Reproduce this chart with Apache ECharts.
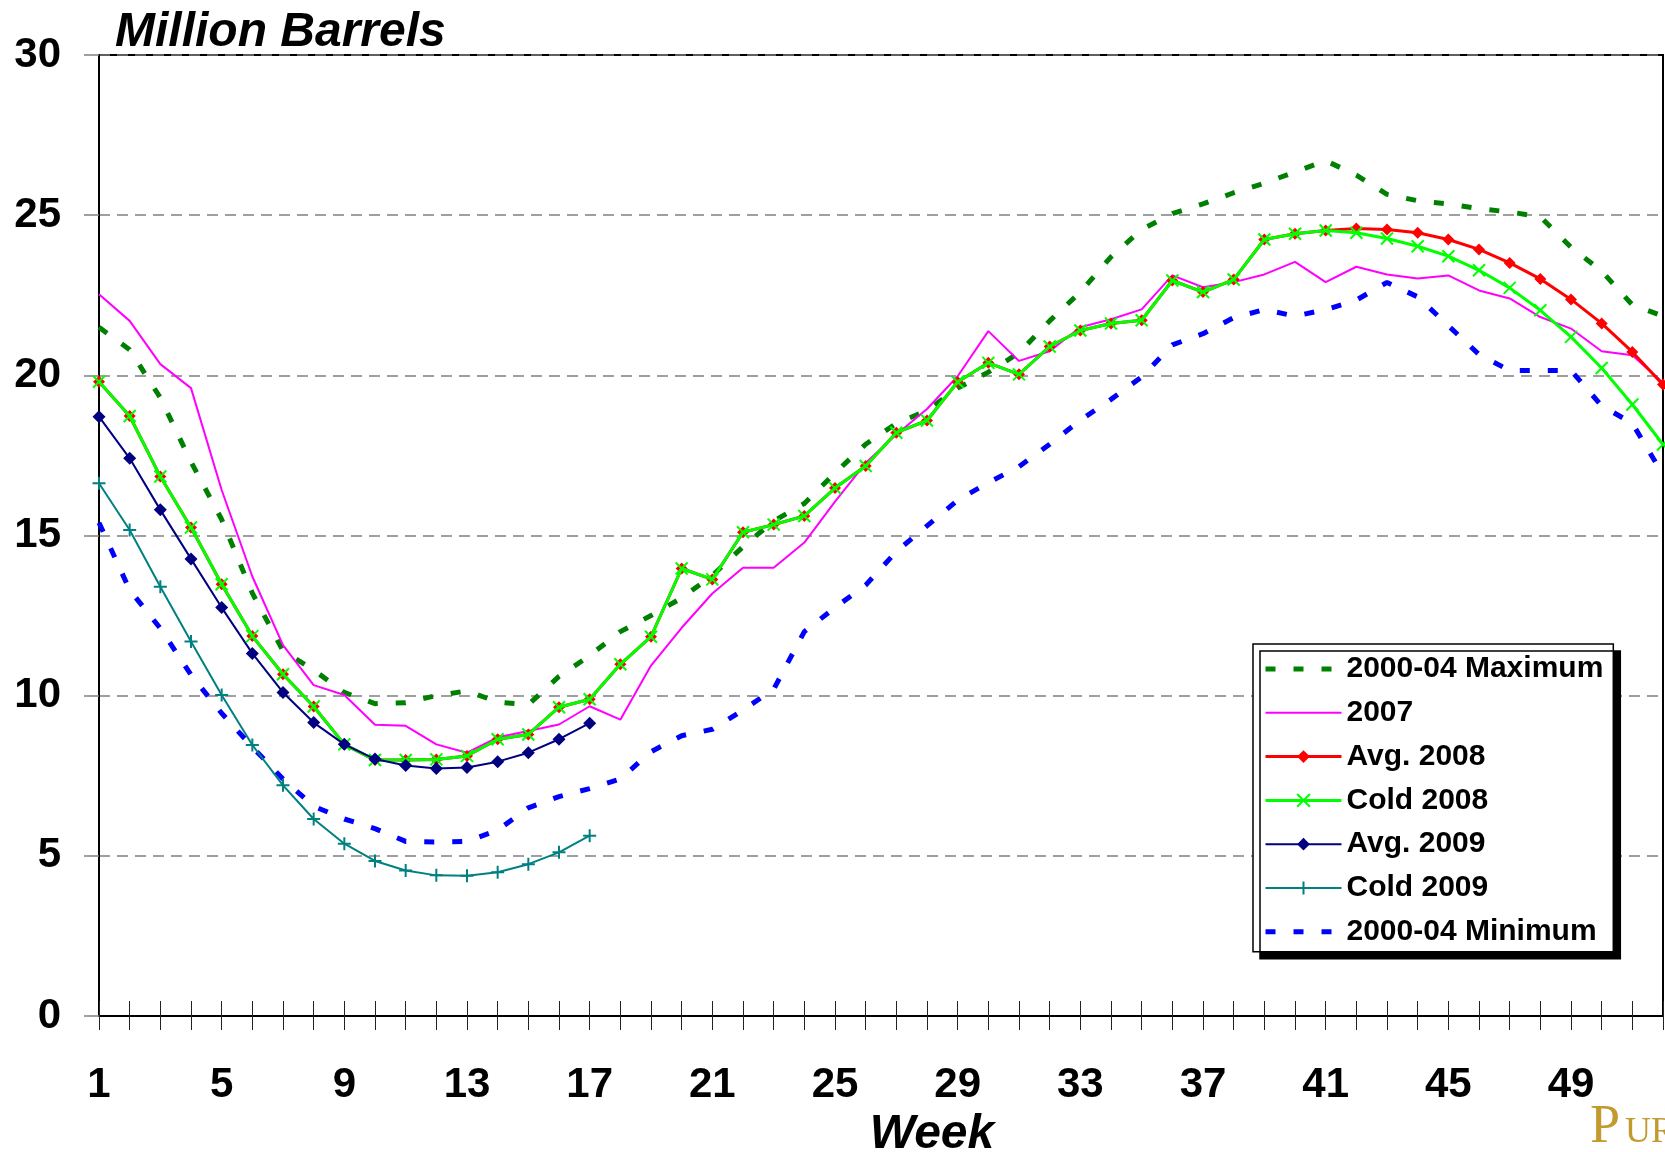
<!DOCTYPE html>
<html>
<head>
<meta charset="utf-8">
<script src="https://cdn.jsdelivr.net/npm/echarts@6/dist/echarts.min.js"></script>
<style>
html,body{margin:0;padding:0;background:#fff;}
#c{width:1665px;height:1152px;}
</style>
</head>
<body>
<div id="c"></div>
<script>
const weeks = ['1','2','3','4','5','6','7','8','9','10','11','12','13','14','15','16','17','18','19','20','21','22','23','24','25','26','27','28','29','30','31','32','33','34','35','36','37','38','39','40','41','42','43','44','45','46','47','48','49','50','51','52'];

const max0004 = [21.5, 20.8, 19.3, 17.3, 15.5, 13.2, 11.4, 10.8, 10.1, 9.75, 9.78, 10.0, 10.15, 9.8, 9.72, 10.6, 11.25, 12.0, 12.5, 13.05, 13.75, 14.65, 15.45, 16.0, 16.95, 17.85, 18.5, 18.9, 19.6, 20.1, 20.7, 21.7, 22.6, 23.7, 24.55, 25.05, 25.35, 25.7, 26.0, 26.35, 26.7, 26.25, 25.65, 25.45, 25.35, 25.2, 25.1, 24.95, 24.0, 23.25, 22.2, 21.85];

const y2007 = [22.53, 21.7, 20.35, 19.6, 16.42, 13.72, 11.58, 10.33, 10.02, 9.09, 9.06, 8.48, 8.22, 8.70, 8.90, 9.10, 9.67, 9.25, 10.94, 12.12, 13.19, 13.99, 13.99, 14.78, 16.06, 17.26, 18.15, 18.95, 19.97, 21.38, 20.45, 20.75, 21.50, 21.75, 22.06, 23.12, 22.75, 22.91, 23.15, 23.54, 22.91, 23.39, 23.15, 23.02, 23.12, 22.65, 22.40, 21.82, 21.46, 20.75, 20.63, 19.77];

const avg2008 = [19.80, 18.73, 16.84, 15.25, 13.48, 11.86, 10.67, 9.66, 8.48, 7.99, 7.99, 8.01, 8.12, 8.64, 8.79, 9.64, 9.89, 10.98, 11.84, 13.97, 13.63, 15.10, 15.34, 15.61, 16.48, 17.17, 18.21, 18.59, 19.79, 20.39, 20.03, 20.90, 21.40, 21.62, 21.72, 22.96, 22.60, 22.99, 24.24, 24.42, 24.52, 24.58, 24.55, 24.45, 24.24, 23.93, 23.51, 23.01, 22.37, 21.62, 20.73, 19.71];

const cold2008 = [19.80, 18.73, 16.84, 15.25, 13.48, 11.86, 10.67, 9.66, 8.48, 7.99, 7.99, 8.01, 8.12, 8.64, 8.79, 9.64, 9.89, 10.98, 11.84, 13.97, 13.63, 15.10, 15.34, 15.61, 16.48, 17.17, 18.21, 18.59, 19.79, 20.39, 20.03, 20.90, 21.40, 21.62, 21.72, 22.96, 22.60, 22.99, 24.24, 24.42, 24.52, 24.45, 24.27, 24.03, 23.72, 23.28, 22.73, 22.03, 21.20, 20.23, 19.09, 17.84];

const avg2009 = [18.71, 17.41, 15.80, 14.27, 12.75, 11.32, 10.10, 9.16, 8.48, 8.02, 7.82, 7.73, 7.76, 7.94, 8.22, 8.64, 9.14];

const cold2009 = [16.63, 15.17, 13.40, 11.69, 10.02, 8.46, 7.20, 6.15, 5.38, 4.84, 4.54, 4.39, 4.38, 4.49, 4.74, 5.11, 5.63];

const min0004 = [15.4, 13.3, 12.1, 10.65, 9.45, 8.4, 7.4, 6.55, 6.15, 5.85, 5.45, 5.43, 5.45, 5.8, 6.5, 6.85, 7.1, 7.4, 8.25, 8.75, 8.95, 9.55, 10.2, 12.0, 12.75, 13.45, 14.5, 15.3, 16.1, 16.65, 17.15, 17.85, 18.6, 19.25, 19.95, 20.95, 21.3, 21.8, 22.05, 21.85, 22.05, 22.35, 22.9, 22.45, 21.55, 20.65, 20.15, 20.15, 20.15, 19.05, 18.5, 16.9];

const yTicks = [0, 5, 10, 15, 20, 25, 30];

const FF = '"Liberation Sans", Arial, Helvetica, sans-serif';
const SERIF = '"Liberation Serif", "Times New Roman", serif';
const X_SYM = 'path://M0,0L10,10M10,0L0,10';
const PLUS_SYM = 'path://M5,0L5,10M0,5L10,5';

const chart = echarts.init(document.getElementById('c'), null, {renderer: 'canvas'});

const option = {
  animation: false,
  backgroundColor: '#fff',
  grid: {
    left: 99, top: 55, right: 2, bottom: 136,
    containLabel: false, outerBoundsMode: 'none',
    show: true, borderColor: '#000', borderWidth: 2, backgroundColor: 'transparent'
  },
  legend: {
    orient: 'vertical', left: 1253, top: 644,
    itemWidth: 76, itemHeight: 16, itemGap: 13.8,
    padding: [10, 10, 5, 10],
    backgroundColor: '#fff', borderColor: '#000', borderWidth: 1.5, borderRadius: 0,
    shadowColor: '#000', shadowBlur: 0, shadowOffsetX: 7, shadowOffsetY: 7,
    lineStyle: {width: 'inherit', type: 'inherit', color: 'inherit'},
    textStyle: {fontFamily: FF, fontSize: 30, fontWeight: 'bold', color: '#000', lineHeight: 30},
    data: [
      {name: '2000-04 Maximum', itemStyle: {opacity: 0}},
      {name: '2007', itemStyle: {opacity: 0}},
      'Avg. 2008', 'Cold 2008', 'Avg. 2009', 'Cold 2009',
      {name: '2000-04 Minimum', itemStyle: {opacity: 0}}
    ]
  },
  xAxis: [
    {
      type: 'category', data: weeks, boundaryGap: false, position: 'bottom',
      axisLine: {show: true, onZero: false, lineStyle: {color: '#000', width: 2}},
      axisTick: {show: true, interval: 0, length: 14, lineStyle: {color: '#222', width: 1}},
      axisLabel: {interval: 3, margin: 48, fontFamily: FF, fontSize: 42, fontWeight: 'bold', color: '#000'},
      splitLine: {show: false}
    },
    {
      type: 'category', data: weeks, boundaryGap: false, position: 'bottom',
      axisLine: {show: false, onZero: false},
      axisTick: {show: true, inside: true, interval: 0, length: 15, lineStyle: {color: '#222', width: 1}},
      axisLabel: {show: false},
      splitLine: {show: false}
    }
  ],
  yAxis: {
    type: 'value', min: yTicks[0], max: yTicks[yTicks.length - 1], interval: 5,
    axisLine: {show: true, lineStyle: {color: '#000', width: 2}},
    axisTick: {show: true, length: 15, lineStyle: {color: '#808080', width: 1.5}},
    axisLabel: {margin: 38, fontFamily: FF, fontSize: 42, fontWeight: 'bold', color: '#000'},
    splitLine: {show: true, lineStyle: {color: '#808080', width: 1.5, type: [11, 7]}}
  },
  series: [
    {
      name: '2000-04 Maximum', type: 'line', data: max0004, symbol: 'none', color: '#008000',
      lineStyle: {color: '#008000', width: 5, type: [10, 18]}, itemStyle: {opacity: 0}, z: 2
    },
    {
      name: '2007', type: 'line', data: y2007, symbol: 'none', color: '#ff00ff',
      lineStyle: {color: '#ff00ff', width: 2}, itemStyle: {opacity: 0}, z: 3
    },
    {
      name: 'Avg. 2008', type: 'line', data: avg2008, symbol: 'diamond', symbolSize: 12, color: '#ff0000',
      lineStyle: {color: '#ff0000', width: 3}, itemStyle: {color: '#ff0000', borderWidth: 0}, z: 4
    },
    {
      name: 'Cold 2008', type: 'line', data: cold2008, symbol: X_SYM, symbolSize: 12, color: '#00ff00',
      lineStyle: {color: '#00ff00', width: 3}, itemStyle: {color: '#00ff00', borderColor: '#00ff00', borderWidth: 2}, z: 5
    },
    {
      name: 'Avg. 2009', type: 'line', data: avg2009, symbol: 'diamond', symbolSize: 13, color: '#000080',
      lineStyle: {color: '#000080', width: 2}, itemStyle: {color: '#000080', borderWidth: 0}, z: 6
    },
    {
      name: 'Cold 2009', type: 'line', data: cold2009, symbol: PLUS_SYM, symbolSize: 13, color: '#008080',
      lineStyle: {color: '#008080', width: 2}, itemStyle: {color: '#008080', borderColor: '#008080', borderWidth: 2}, z: 6
    },
    {
      name: '2000-04 Minimum', type: 'line', data: min0004, symbol: 'none', color: '#0000ff',
      lineStyle: {color: '#0000ff', width: 5, type: [10, 18]}, itemStyle: {opacity: 0}, z: 2
    }
  ],
  graphic: [
    {
      type: 'text', x: 115, y: 33, z: 10,
      style: {text: 'Million Barrels', fill: '#000', font: 'italic bold 48px ' + FF,
        align: 'left', verticalAlign: 'middle', textAlign: 'left', textVerticalAlign: 'middle'}
    },
    {
      type: 'text', x: 932, y: 1135, z: 10,
      style: {text: 'Week', fill: '#000', font: 'italic bold 48px ' + FF,
        align: 'center', verticalAlign: 'middle', textAlign: 'center', textVerticalAlign: 'middle'}
    },
    {
      type: 'text', x: 1590, y: 1128, z: 10,
      style: {text: 'P', fill: '#c29a30', font: '54px ' + SERIF,
        align: 'left', verticalAlign: 'middle', textAlign: 'left', textVerticalAlign: 'middle'}
    },
    {
      type: 'text', x: 1625, y: 1133, z: 10,
      style: {text: 'URDUE', fill: '#c29a30', font: '36px ' + SERIF,
        align: 'left', verticalAlign: 'middle', textAlign: 'left', textVerticalAlign: 'middle'}
    }
  ]
};

chart.setOption(option);
</script>
</body>
</html>
